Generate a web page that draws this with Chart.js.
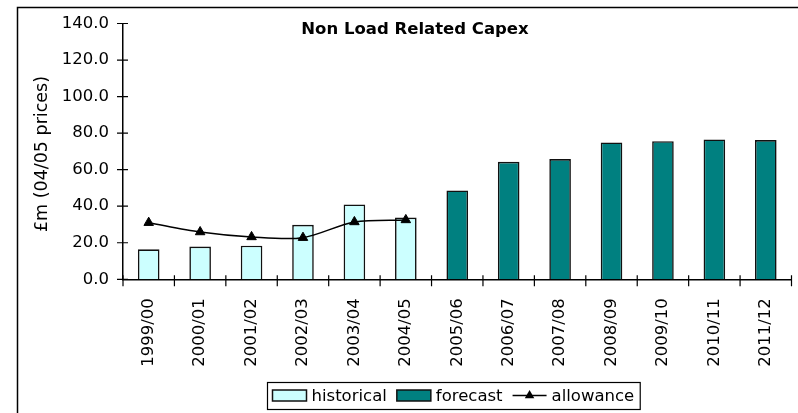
<!DOCTYPE html>
<html>
<head>
<meta charset="utf-8">
<script src="https://cdn.jsdelivr.net/npm/chart.js@4.4.1/dist/chart.umd.min.js"></script>
<style>
  html, body { margin: 0; padding: 0; background: #fff; }
  #wrap { width: 798px; height: 413px; position: relative; }
</style>
</head>
<body>
<div id="wrap"><canvas id="c" width="798" height="413"></canvas></div>
<script>
// Financial years
const years = ['1999/00', '2000/01', '2001/02', '2002/03', '2003/04', '2004/05', '2005/06',
               '2006/07', '2007/08', '2008/09', '2009/10', '2010/11', '2011/12'];
// Non load related capex, £m at 04/05 prices
const historical = [16.4, 17.9, 18.4, 29.8, 41.0, 33.8, null, null, null, null, null, null, null];
const forecast   = [null, null, null, null, null, null, 48.6, 64.3, 65.8, 74.9, 75.6, 76.5, 76.2];
const allowance  = [31.0, 25.9, 23.2, 22.8, 31.4, 32.5, null, null, null, null, null, null, null];
const yTicks = [0, 20, 40, 60, 80, 100, 120, 140];
const legendOrder = ['historical', 'forecast', 'allowance'];

const FONT = 'DejaVu Sans, Verdana, sans-serif';
const FS = 16.5;

// Outer frame, title, axis title, crossing tick marks and the boxed legend
const decor = {
  id: 'decor',
  afterDraw(chart) {
    const ctx = chart.ctx;
    const xs = chart.scales.x, ys = chart.scales.y;
    ctx.save();
    ctx.strokeStyle = '#000';
    ctx.lineWidth = 1.5;
    // frame
    ctx.strokeRect(17.5, 7.5, 820, 430);

    // y tick marks across the axis
    const ax = xs.left;
    ctx.lineWidth = 1.2;
    ctx.beginPath();
    yTicks.forEach(v => {
      const py = ys.getPixelForValue(v);
      ctx.moveTo(ax - 6, py); ctx.lineTo(ax + 5, py);
    });
    // x tick marks at category boundaries
    const ay = ys.bottom;
    for (let i = 0; i <= years.length; i++) {
      const px = xs.getPixelForValue(i - 0.5);
      ctx.moveTo(px, ay - 4); ctx.lineTo(px, ay + 7);
    }
    ctx.stroke();

    // title
    ctx.fillStyle = '#000';
    ctx.font = 'bold ' + FS + 'px ' + FONT;
    ctx.textAlign = 'center';
    ctx.textBaseline = 'middle';
    ctx.fillText('Non Load Related Capex', 415, 30);

    // y axis title
    ctx.save();
    ctx.font = '17.5px ' + FONT;
    ctx.translate(42, 154);
    ctx.rotate(-Math.PI / 2);
    ctx.fillText('£m (04/05 prices)', 0, 0);
    ctx.restore();

    // legend
    const ds = legendOrder.map(l => chart.data.datasets.find(d => d.label === l));
    ctx.font = FS + 'px ' + FONT;
    ctx.textAlign = 'left';
    const top = 382, h = 27, mid = top + h / 2;
    const sw = 34, gap = 5, itemGap = 10;
    const widths = ds.map(d => ctx.measureText(d.label).width);
    const total = 5 + widths.reduce((a, w) => a + sw + gap + w, 0) + itemGap * (ds.length - 1) + 6;
    const x0 = 267;
    ctx.lineWidth = 1.2;
    ctx.strokeStyle = '#000';
    ctx.strokeRect(x0 + 0.5, top + 0.5, total, h);
    let x = x0 + 5.5;
    ds.forEach((d, i) => {
      if (d.type === 'line') {
        ctx.strokeStyle = '#000';
        ctx.lineWidth = 1.5;
        ctx.beginPath(); ctx.moveTo(x, mid); ctx.lineTo(x + sw, mid); ctx.stroke();
        const r = 5.5, cx = x + sw / 2;
        ctx.beginPath();
        ctx.moveTo(cx, mid - r);
        ctx.lineTo(cx + r * 0.866, mid + r / 2);
        ctx.lineTo(cx - r * 0.866, mid + r / 2);
        ctx.closePath(); ctx.fillStyle = '#000'; ctx.fill();
      } else {
        ctx.fillStyle = d.backgroundColor;
        ctx.fillRect(x, mid - 5.5, sw, 11);
        ctx.lineWidth = 1.5;
        ctx.strokeStyle = '#111';
        ctx.strokeRect(x, mid - 5.5, sw, 11);
      }
      ctx.fillStyle = '#000';
      ctx.fillText(d.label, x + sw + gap, mid + 1);
      x += sw + gap + widths[i] + itemGap;
    });
    ctx.restore();
  }
};

new Chart(document.getElementById('c'), {
  data: {
    labels: years,
    datasets: [
      { type: 'line', label: 'allowance', data: allowance, borderColor: '#000', borderWidth: 1.5,
        tension: 0.3, pointStyle: 'triangle', pointRadius: 5.5, pointBackgroundColor: '#000',
        pointBorderColor: '#000', pointBorderWidth: 1, order: 0, spanGaps: false },
      { type: 'bar', label: 'historical', data: historical, backgroundColor: '#CCFFFF',
        borderColor: '#111', borderWidth: 1.6, grouped: false, order: 1,
        barPercentage: 0.84, categoryPercentage: 0.5 },
      { type: 'bar', label: 'forecast', data: forecast, backgroundColor: '#008080',
        borderColor: '#111', borderWidth: 1.6, grouped: false, order: 1,
        barPercentage: 0.84, categoryPercentage: 0.5 }
    ]
  },
  options: {
    responsive: false,
    animation: false,
    devicePixelRatio: 1,
    layout: { padding: { left: 0, right: 4, top: 23.5, bottom: 0 } },
    plugins: { legend: { display: false }, title: { display: false }, tooltip: { enabled: false } },
    scales: {
      x: {
        type: 'category',
        offset: true,
        grid: { display: false, drawTicks: false },
        border: { display: true, color: '#000', width: 1.5 },
        ticks: { color: '#000', font: { family: FONT, size: FS }, minRotation: 90, maxRotation: 90,
                 padding: 19, autoSkip: false },
        afterFit(s) { s.height = 413 - 279.3; s.paddingLeft = 0; s.paddingRight = 0; }
      },
      y: {
        min: 0, max: 140,
        afterBuildTicks(s) { s.ticks = yTicks.map(v => ({ value: v })); },
        grid: { display: false, drawTicks: false },
        border: { display: true, color: '#000', width: 1.5 },
        ticks: { color: '#000', font: { family: FONT, size: FS }, padding: 14,
                 callback: v => Number(v).toFixed(1) },
        afterFit(s) { s.width = 123; s.paddingTop = 0; s.paddingBottom = 0; }
      }
    }
  },
  plugins: [decor]
});
</script>
</body>
</html>
